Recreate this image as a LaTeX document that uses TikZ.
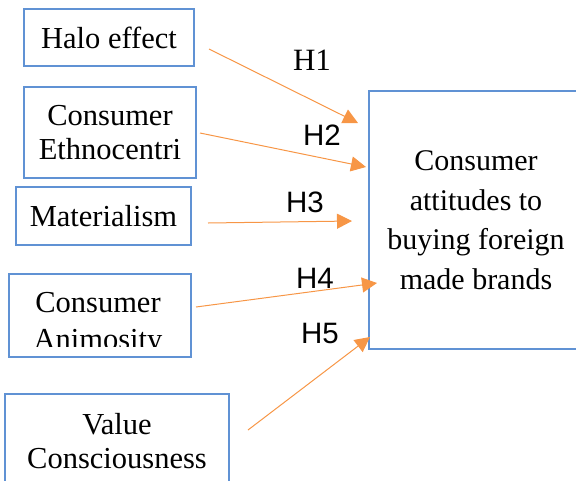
\documentclass[tikz,border=0pt]{standalone}
\usepackage{fontspec}
\setmainfont{Liberation Serif}
\newfontfamily\hypfont{Liberation Sans}
\usetikzlibrary{arrows.meta}
\definecolor{boxblue}{RGB}{96,146,212}
\definecolor{arrorange}{RGB}{247,150,70}

\begin{document}
\begin{tikzpicture}[x=1pt, y=-1pt,
  factor/.style={draw=boxblue, line width=1.3pt, align=center, inner sep=0pt,
    font=\fontsize{30.5}{34}\selectfont},
  hyp/.style={arrorange, line width=1pt, -{Triangle[length=15pt,width=15pt]}},
  hlabel/.style={font=\hypfont\fontsize{29.5}{34}\selectfont}]
\useasboundingbox (0,0) rectangle (576,480);

% independent variables
\node[factor, minimum width=170pt, minimum height=57pt] (halo) at (109,37.5) {Halo effect};
\node[factor, minimum width=172pt, minimum height=91pt] (ethno) at (110,132.5) {Consumer\\Ethnocentri};
\node[factor, minimum width=175pt, minimum height=58pt] (mater) at (103.5,216) {Materialism};
\node[factor, minimum width=182pt, minimum height=83pt] (anim) at (100,315.5) {};
\begin{scope}
 \clip (9,274) rectangle (191,346);
 \node[factor, draw=none, font=\fontsize{30.5}{37}\selectfont] (animtext) at (98,324) {Consumer\\Animosity};
\end{scope}
\node[factor, minimum width=224pt, minimum height=94pt] (value) at (117,441) {Value\\Consciousness};

% dependent variable
\node[factor, minimum width=214pt, minimum height=258pt,
  font=\fontsize{30}{39.5}\selectfont] (attit) at (476,220) {Consumer\\attitudes to\\buying foreign\\made brands};

% arrow ends
\coordinate (s1) at (209,49);  \coordinate (t1) at (358,123);
\coordinate (s2) at (200,133); \coordinate (t2) at (366,167);
\coordinate (s3) at (208,223); \coordinate (t3) at (352,221);
\coordinate (s4) at (196,307); \coordinate (t4) at (377,283);
\coordinate (s5) at (248,430); \coordinate (t5) at (370,337);

\foreach \i in {1,...,5}
  \draw[hyp] (s\i) -- (t\i);

\node[font=\fontsize{31}{34}\selectfont] (h1) at (312,60) {H1};
\node[hlabel] (h2) at (322,135) {H2};
\node[hlabel] (h3) at (305,202) {H3};
\node[hlabel] (h4) at (315,278) {H4};
\node[hlabel] (h5) at (320,333) {H5};
\end{tikzpicture}
\end{document}
